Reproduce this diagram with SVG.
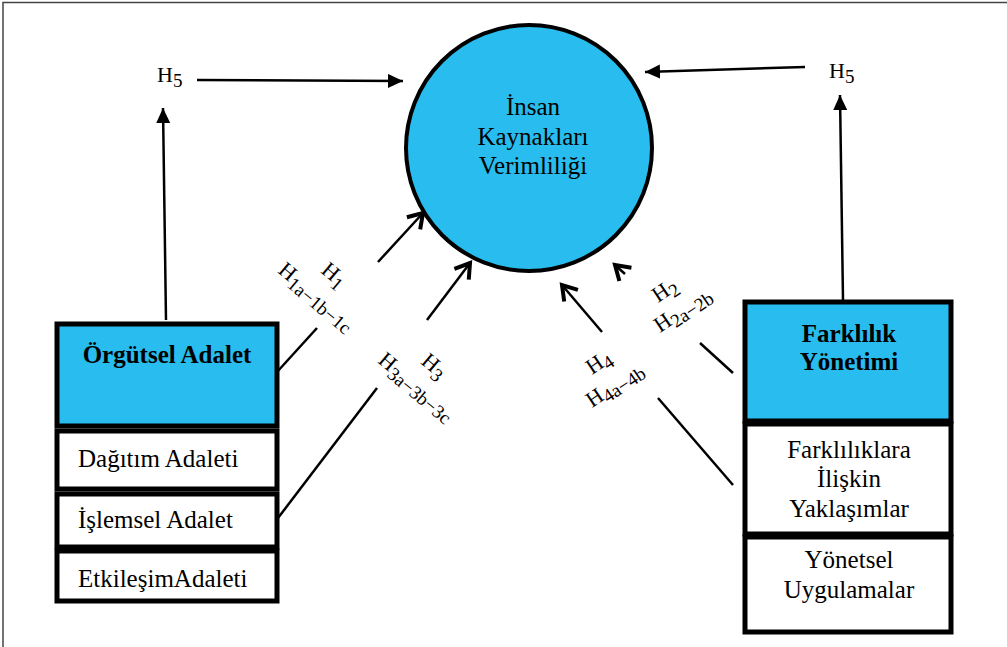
<svg xmlns="http://www.w3.org/2000/svg" width="1007" height="647" viewBox="0 0 1007 647">
<defs>
<marker id="tri" markerUnits="userSpaceOnUse" markerWidth="18" markerHeight="16" refX="15" refY="7" orient="auto"><path d="M0,0 L15,7 L0,14 Z" fill="#000"/></marker>
<marker id="chev" markerUnits="userSpaceOnUse" markerWidth="24" markerHeight="24" refX="18" refY="12" orient="auto"><path d="M4,3 L18,12 L4,21" fill="none" stroke="#000" stroke-width="4" stroke-linejoin="miter"/></marker>
<style>
.lbl{font-family:"Liberation Serif","DejaVu Serif","Times New Roman",serif;font-size:25px;fill:#000}
.b{font-weight:bold}
.h{font-family:"Liberation Serif","DejaVu Serif","Times New Roman",serif;font-size:22px;fill:#000}
.sub{font-size:19px}
.box{stroke:#000;stroke-width:5}
.blue{fill:#28BDEE}
.white{fill:#fff}
.ln{stroke:#000;stroke-width:2.5;fill:none}
</style>
</defs>
<rect width="1007" height="647" fill="#fff"/>
<g id="frame"><path d="M3,647 L3,2.5 L1007,2.5" fill="none" stroke="#444" stroke-width="1.5"/></g>

<g id="connectors">
<line class="ln" x1="197" y1="80" x2="403" y2="81" marker-end="url(#tri)"/>
<line class="ln" x1="166" y1="320" x2="163" y2="108" marker-end="url(#tri)"/>
<line class="ln" x1="805" y1="67" x2="645" y2="72" marker-end="url(#tri)"/>
<line class="ln" x1="843" y1="300" x2="840" y2="95" marker-end="url(#tri)"/>
<line class="ln" x1="277" y1="372" x2="317" y2="328"/>
<line class="ln" x1="378" y1="262" x2="423" y2="213" marker-end="url(#chev)"/>
<line class="ln" x1="278" y1="518" x2="377" y2="388"/>
<line class="ln" x1="427" y1="320" x2="470" y2="263" marker-end="url(#chev)"/>
<line class="ln" x1="700" y1="343" x2="733" y2="373"/>
<line class="ln" x1="625" y1="274" x2="615" y2="265" marker-end="url(#chev)"/>
<line class="ln" x1="658" y1="398" x2="733" y2="485"/>
<line class="ln" x1="602" y1="332" x2="562" y2="285" marker-end="url(#chev)"/>
</g>

<g id="hlabels">
<text class="h" x="157" y="82">H<tspan class="sub" dy="5">5</tspan></text>
<text class="h" x="829" y="78">H<tspan class="sub" dy="5">5</tspan></text>
<text class="h" transform="translate(320,272) rotate(40)">H<tspan class="sub" dy="5">1</tspan></text>
<text class="h" transform="translate(277,272) rotate(40)">H<tspan class="sub" dy="5">1a−1b−1c</tspan></text>
<text class="h" transform="translate(420,363) rotate(40)">H<tspan class="sub" dy="5">3</tspan></text>
<text class="h" transform="translate(377,362) rotate(40)">H<tspan class="sub" dy="5">3a−3b−3c</tspan></text>
<text class="h" transform="translate(658,303) rotate(-34)">H<tspan class="sub" dy="5">2</tspan></text>
<text class="h" transform="translate(660,333) rotate(-34)">H<tspan class="sub" dy="5">2a−2b</tspan></text>
<text class="h" transform="translate(592,375) rotate(-34)">H<tspan class="sub" dy="5">4</tspan></text>
<text class="h" transform="translate(592,408) rotate(-34)">H<tspan class="sub" dy="5">4a−4b</tspan></text>
</g>

<g id="ikv">
<circle cx="529" cy="148" r="123" class="blue" stroke="#000" stroke-width="4"/>
<text class="lbl" text-anchor="middle" x="533" y="115">İnsan</text>
<text class="lbl" text-anchor="middle" x="533" y="145">Kaynakları</text>
<text class="lbl" text-anchor="middle" x="533" y="174">Verimliliği</text>
</g>

<g id="orgutsel">
<rect x="57" y="324" width="220" height="102" class="box blue"/>
<text class="lbl b" text-anchor="middle" x="167" y="363">Örgütsel Adalet</text>
</g>
<g id="dagitim">
<rect x="57" y="431" width="220" height="58" class="box white"/>
<text class="lbl" x="78" y="467">Dağıtım Adaleti</text>
</g>
<g id="islemsel">
<rect x="57" y="494" width="220" height="53" class="box white"/>
<text class="lbl" x="78" y="528">İşlemsel Adalet</text>
</g>
<g id="etkilesim">
<rect x="57" y="551" width="220" height="50" class="box white"/>
<text class="lbl" x="78" y="587">EtkileşimAdaleti</text>
</g>

<g id="farklilik">
<rect x="745" y="302" width="206" height="119" class="box blue"/>
<text class="lbl b" text-anchor="middle" x="849" y="342">Farklılık</text>
<text class="lbl b" text-anchor="middle" x="849" y="370">Yönetimi</text>
</g>
<g id="yaklasimlar">
<rect x="745" y="424" width="206" height="110" class="box white"/>
<text class="lbl" text-anchor="middle" x="849" y="458">Farklılıklara</text>
<text class="lbl" text-anchor="middle" x="849" y="487">İlişkin</text>
<text class="lbl" text-anchor="middle" x="849" y="517">Yaklaşımlar</text>
</g>
<g id="yonetsel">
<rect x="745" y="537" width="206" height="95" class="box white"/>
<text class="lbl" text-anchor="middle" x="849" y="568">Yönetsel</text>
<text class="lbl" text-anchor="middle" x="849" y="598">Uygulamalar</text>
</g>
</svg>
